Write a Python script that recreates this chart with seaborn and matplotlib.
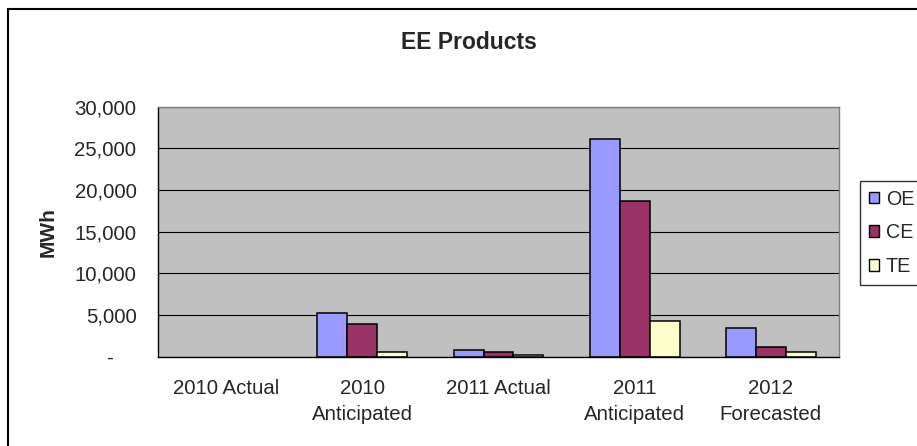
import matplotlib
matplotlib.use("Agg")
import matplotlib.pyplot as plt
from matplotlib.patches import Patch, Rectangle
from matplotlib.ticker import FixedLocator, FuncFormatter
import pandas as pd
import seaborn as sns

# Energy-efficiency savings by program year (MWh)
categories = ["2010 Actual", "2010\nAnticipated", "2011 Actual",
              "2011\nAnticipated", "2012\nForecasted"]
series = ["OE", "CE", "TE"]
oe_mwh = [0, 5200, 800, 26100, 3480]
ce_mwh = [0, 3900, 600, 18650, 1160]
te_mwh = [0, 600, 200, 4250, 600]
y_ticks = [0, 5000, 10000, 15000, 20000, 25000, 30000]
colors = ["#9999FF", "#993366", "#FFFFCC"]

W, H = 917, 446
sns.set_style("white")
plt.rcParams["font.family"] = ["Liberation Sans", "DejaVu Sans"]

rows = []
for name, vals in zip(series, [oe_mwh, ce_mwh, te_mwh]):
    for cat, v in zip(categories, vals):
        rows.append({"Period": cat, "Series": name, "MWh": v})
df = pd.DataFrame(rows)

fig = plt.figure(figsize=(W / 100, H / 100), dpi=100)
fig.patch.set_facecolor("white")
ax = fig.add_axes([158 / W, 1 - 356.7 / H, (839 - 158) / W, 250 / H])
ax.set_facecolor("#C0C0C0")

sns.barplot(data=df, x="Period", y="MWh", hue="Series", order=categories,
            hue_order=series, palette=colors, saturation=1, width=0.66,
            edgecolor="black", linewidth=1.1, errorbar=None, legend=False, ax=ax)
# empty bars leave no outline on the axis
for bar in ax.patches:
    if bar.get_height() == 0:
        bar.set_linewidth(0)

ax.set_xlim(-0.5, len(categories) - 0.5)
ax.set_ylim(y_ticks[0], y_ticks[-1])
ax.yaxis.set_major_locator(FixedLocator(y_ticks))
ax.yaxis.set_major_formatter(FuncFormatter(
    lambda v, p: "-    " if v == 0 else f"{int(v):,}"))
ax.grid(axis="y", color="black", linewidth=0.8)
ax.set_axisbelow(True)

# category labels at centers, tick marks on the category boundaries
ax.set_xticks(range(len(categories)))
ax.set_xticklabels(categories, fontsize=14.7)
ax.set_xticks([i - 0.5 for i in range(len(categories) + 1)], minor=True)
ax.tick_params(axis="x", which="major", length=0, pad=16)
ax.tick_params(axis="x", which="minor", length=6, width=1, direction="out",
               color="black")
for t in ax.get_xticklabels():
    t.set_linespacing(1.5)
ax.tick_params(axis="y", length=5.5, width=1, direction="out", color="black",
               labelsize=14.7, pad=10)
ax.set_xlabel("")
ax.set_ylabel("MWh", fontsize=15, fontweight="bold", labelpad=12)

for side in ["left", "bottom"]:
    ax.spines[side].set_color("black")
    ax.spines[side].set_linewidth(1.0)
for side in ["top", "right"]:
    ax.spines[side].set_color("#808080")
    ax.spines[side].set_linewidth(1.0)

fig.text(468.5 / W, 1 - 49.3 / H, "EE Products", ha="center", va="baseline",
         fontsize=16.5, fontweight="bold")

handles = [Patch(facecolor=c, edgecolor="black", linewidth=1.0) for c in colors]
leg = ax.legend(handles, series, loc="upper left",
                bbox_to_anchor=(860 / W, 1 - 180.7 / H, 90 / W, 0),
                bbox_transform=fig.transFigure, mode="expand",
                fontsize=14.2, frameon=True, fancybox=False, shadow=False,
                borderpad=0.45, handlelength=0.52, handleheight=0.52,
                handletextpad=0.33, labelspacing=0.74, borderaxespad=0)
leg.get_frame().set_edgecolor("black")
leg.get_frame().set_linewidth(1.0)

# chart-area border
fig.add_artist(Rectangle((8 / W, -0.1), 1.2, (1 - 9 / H) + 0.1,
                         transform=fig.transFigure, fill=False,
                         edgecolor="black", linewidth=1.5))

fig.savefig("out.png", dpi=100)
